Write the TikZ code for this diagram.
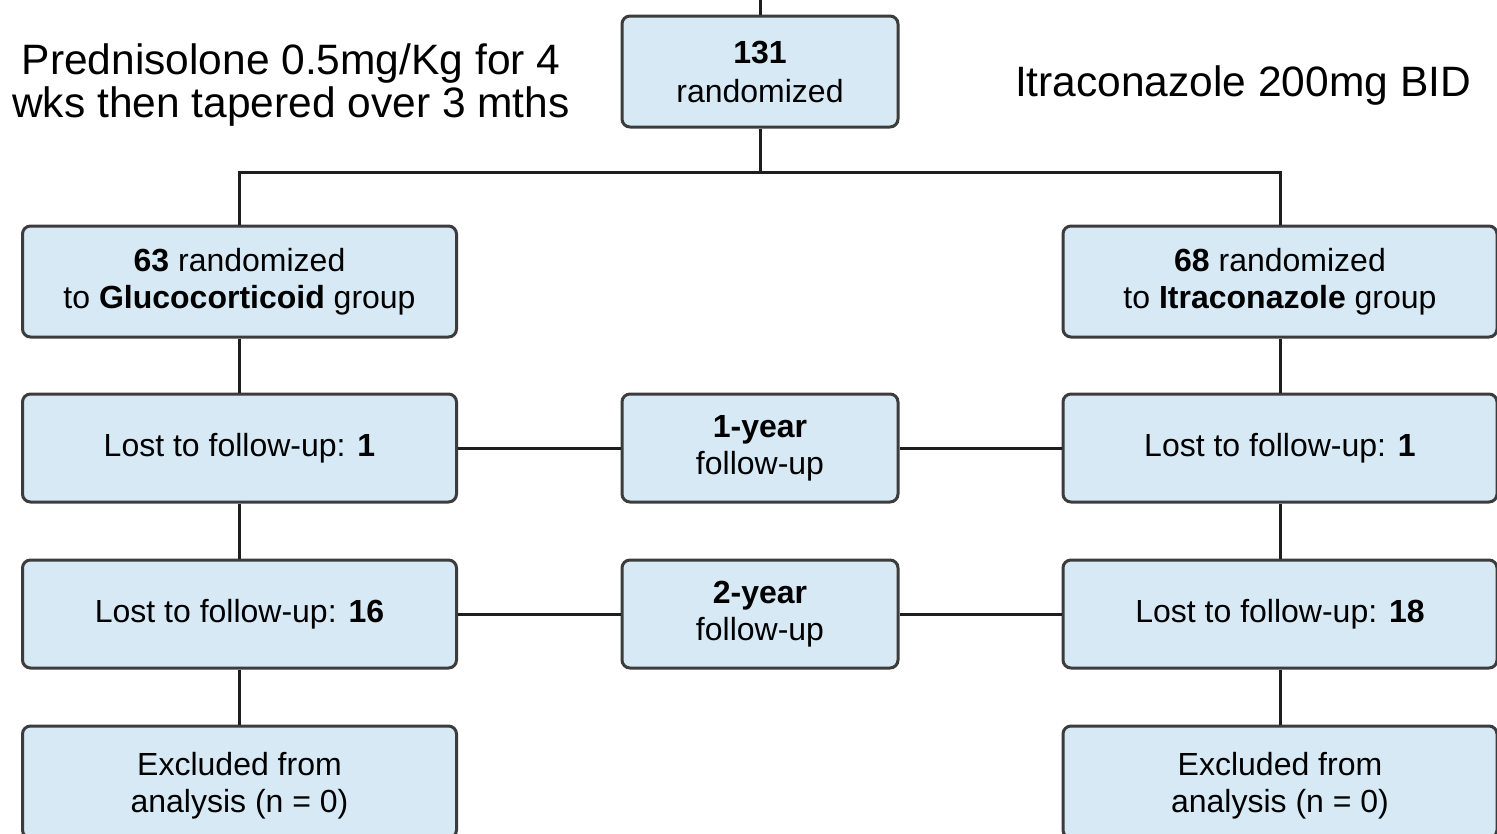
\documentclass[tikz,border=0pt]{standalone}
\usepackage{fontspec}
\setmainfont{Liberation Sans}
\definecolor{boxfill}{HTML}{D6E9F5}
\definecolor{boxline}{HTML}{3C3C3C}
\definecolor{linec}{HTML}{1E1E1E}
\begin{document}
\begin{tikzpicture}[x=1pt,y=-1pt,
  box/.style={draw=boxline, fill=boxfill, line width=3pt, rounded corners=8pt,
    align=center, inner sep=0pt, font=\fontsize{32}{37}\selectfont,
    minimum width=434pt, minimum height=110pt},
  mbox/.style={box, minimum width=276pt},
  conn/.style={draw=linec, line width=3pt},
  note/.style={align=center, inner sep=0pt, font=\fontsize{42.5}{43}\selectfont}]
\useasboundingbox (0,0) rectangle (1497,833);
\fill[white] (0,0) rectangle (1497,833);
% nodes
\node[mbox, minimum height=111pt, font=\fontsize{32}{39}\selectfont] (top) at (760,71.5) {\textbf{131}\\randomized};
\node[box, minimum height=111pt] (g1) at (239.5,281.5) {\textbf{63} randomized\\to \textbf{Glucocorticoid} group};
\node[box, minimum height=111pt] (i1) at (1280,281.5) {\textbf{68} randomized\\to \textbf{Itraconazole} group};
\node[box, minimum height=108pt] (g2) at (239.5,448) {Lost to follow-up: \textbf{1}};
\node[mbox, minimum height=108pt] (y1) at (760,448) {\textbf{1-year}\\follow-up};
\node[box, minimum height=108pt] (i2) at (1280,448) {Lost to follow-up: \textbf{1}};
\node[box, minimum height=108pt] (g3) at (239.5,614) {Lost to follow-up: \textbf{16}};
\node[mbox, minimum height=108pt] (y2) at (760,614) {\textbf{2-year}\\follow-up};
\node[box, minimum height=108pt] (i3) at (1280,614) {Lost to follow-up: \textbf{18}};
\node[box, minimum height=112pt, text depth=0pt] (g4) at (239.5,782) {Excluded from\\analysis (n = 0)};
\node[box, minimum height=112pt, text depth=0pt] (i4) at (1280,782) {Excluded from\\analysis (n = 0)};
\node[note] (pred) at (291,85) {Prednisolone 0.5mg/Kg for 4\\wks then tapered over 3 mths};
\node[note] (itra) at (1243,86) {Itraconazole 200mg BID};
% connectors
\coordinate (entry) at (760,0);
\coordinate (split) at (760,172);
\draw[conn] (entry) -- (top.north);
\draw[conn] (top.south) -- (split);
\draw[conn] (g1.north) |- (split) -| (i1.north);
\draw[conn] (g1.south) -- (g2.north);
\draw[conn] (g2.south) -- (g3.north);
\draw[conn] (g3.south) -- (g4.north);
\draw[conn] (i1.south) -- (i2.north);
\draw[conn] (i2.south) -- (i3.north);
\draw[conn] (i3.south) -- (i4.north);
\draw[conn] (g2.east) -- (y1.west);
\draw[conn] (y1.east) -- (i2.west);
\draw[conn] (g3.east) -- (y2.west);
\draw[conn] (y2.east) -- (i3.west);
\end{tikzpicture}
\end{document}
